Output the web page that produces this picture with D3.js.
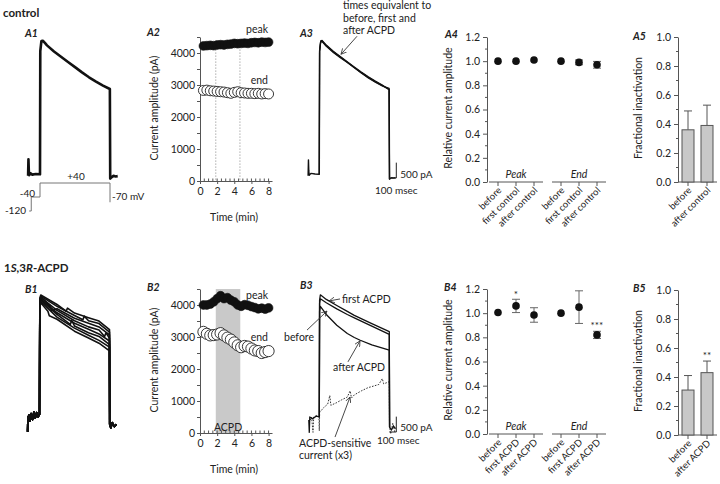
<!DOCTYPE html>
<html><head><meta charset="utf-8">
<script src="https://cdn.jsdelivr.net/npm/d3@7"></script>
<style>
body{margin:0;background:#fff}
svg{display:block}
text{font-family:Lato,"Open Sans","DejaVu Sans",sans-serif;fill:#222}
</style></head>
<body><svg id="c" width="720" height="484"></svg>
<script>
// ---------------- DATA ----------------
const timeMin = [0.4,0.8,1.2,1.6,2.0,2.4,2.8,3.2,3.6,4.0,4.4,4.8,5.2,5.6,6.0,6.4,6.8,7.2,7.6,8.0];
const a2Peak = [4220,4230,4240,4230,4250,4260,4250,4270,4280,4300,4290,4300,4310,4300,4320,4330,4320,4340,4330,4340];
const a2End  = [2830,2840,2820,2810,2800,2790,2780,2760,2740,2770,2790,2760,2750,2740,2740,2730,2740,2720,2730,2720];
const b2Peak = [4000,4000,4030,4100,4200,4290,4200,4230,4150,4100,4000,3960,4010,3990,3950,3920,3880,3900,3870,3910];
const b2End  = [3160,3100,3050,3060,3080,3120,3050,2980,2920,2830,2740,2680,2720,2700,2640,2580,2560,2500,2530,2560];
const a2Marks = [1.84, 4.66];
const b2Shade = [1.84, 4.7];
const ampTicks = [0,1000,2000,3000,4000];
const timeTicks = [0,2,4,6,8];

const groups = ["Peak","End"];
const a4Cats = ["before","first control","after control"];
const a4Peak = [1.0, 1.0, 1.01],  a4PeakErr = [0.005, 0.008, 0.01];
const a4End  = [1.0, 0.99, 0.97], a4EndErr  = [0.008, 0.02, 0.028];
const b4Cats = ["before","first ACPD","after ACPD"];
const b4Peak = [1.005, 1.06, 0.985], b4PeakErr = [0.01, 0.055, 0.06];
const b4End  = [1.0, 1.05, 0.82],    b4EndErr  = [0.01, 0.135, 0.03];
const b4Stars = [{group:0, cat:1, value:1.16, label:"*"}, {group:1, cat:2, value:0.9, label:"***"}];
const relTicks = [0,0.2,0.4,0.6,0.8,1.0,1.2];

const a5Cats = ["before","after control"], a5Vals = [0.36, 0.39], a5Err = [0.13, 0.14];
const b5Cats = ["before","after ACPD"],    b5Vals = [0.31, 0.43], b5Err = [0.10, 0.08];
const b5Stars = [{cat:1, value:0.55, label:"**"}];
const fracTicks = [0,0.2,0.4,0.6,0.8,1.0];

// current traces: [time (ms from step onset), current (pA)]
const a1Trace = [[-170,-60],[-165,480],[-160,120],[-154,-40],[-140,30],[-110,-20],[-60,0],[0,-10],[4,4000],[20,4330],[40,4340],[70,4270],[100,4190],[200,3990],[300,3820],[400,3650],[500,3480],[600,3310],[700,3150],[800,3010],[900,2880],[998,2770],[1003,-150],[1020,-110],[1050,-60],[1080,-80],[1110,-70]];
const a3Before = [[-160,-60],[-155,460],[-150,100],[-144,-40],[-120,20],[-60,0],[0,-10],[4,4000],[20,4320],[40,4330],[100,4180],[200,3980],[300,3810],[400,3640],[500,3470],[600,3300],[700,3150],[800,3010],[900,2880],[998,2760],[1003,-170],[1030,-120],[1060,-130],[1090,-120]];
const a3First  = [[0,-10],[4,4000],[20,4300],[40,4310],[100,4160],[200,3960],[300,3790],[400,3630],[500,3460],[600,3290],[700,3130],[800,2990],[900,2870],[998,2790],[1003,-160]];
const a3After  = [[0,-10],[4,4000],[20,4340],[40,4350],[100,4200],[200,4000],[300,3830],[400,3660],[500,3490],[600,3320],[700,3170],[800,3030],[900,2900],[998,2740],[1003,-160]];
const b1Pre  = [[-170,-550],[-166,-100],[-150,0],[-135,-200],[-120,50],[-100,-150],[-80,100],[-60,-100],[-40,80],[-20,-60],[0,20]];
const b1Post = [[1003,-300],[1020,-420],[1040,-250],[1070,-380],[1100,-300]];
const b1Sweeps = [
 [[5,3800],[18,3910],[250,3600],[380,3380],[400,3480],[500,3320],[700,3170],[850,3060],[1000,2780]],
 [[5,3760],[18,3870],[250,3540],[500,3240],[620,3100],[640,3220],[700,3070],[850,2980],[1000,2700]],
 [[5,3720],[18,3850],[150,3560],[170,3400],[250,3460],[500,3150],[700,2990],[850,2870],[1000,2610]],
 [[5,3690],[18,3830],[250,3410],[500,3070],[700,2870],[850,2770],[930,2560],[950,2680],[1000,2500]],
 [[5,3640],[18,3780],[250,3330],[500,2990],[700,2790],[850,2640],[1000,2410]],
 [[5,3610],[18,3750],[250,3280],[440,2950],[460,3080],[500,2900],[700,2680],[850,2560],[1000,2290]],
 [[5,3560],[18,3700],[250,3190],[500,2830],[700,2600],[850,2430],[1000,2210]],
 [[5,3500],[18,3660],[120,3380],[140,3230],[250,3120],[500,2730],[700,2510],[850,2340],[1000,2090]]
];
const b3Before = [[-150,-100],[-143,-500],[-136,0],[-100,-60],[-40,30],[0,0],[4,3700],[15,3850],[100,3720],[250,3520],[400,3340],[500,3230],[750,2960],[1000,2690],[1004,-330],[1030,-420],[1060,-300],[1090,-380]];
const b3First  = [[0,0],[4,3800],[15,3980],[100,3830],[250,3630],[400,3440],[500,3310],[750,3040],[1000,2780],[1004,-330]];
const b3After  = [[0,0],[4,3450],[15,3600],[100,3340],[250,2990],[400,2720],[500,2590],[585,2500],[750,2350],[1000,2180],[1004,-330]];
const b3Sens   = [[-130,-100],[-110,0],[-90,-500],[-80,0],[-40,50],[-5,0],[0,-450],[5,150],[60,300],[120,420],[150,700],[165,380],[250,470],[320,560],[400,650],[440,850],[460,620],[500,720],[600,850],[700,960],[750,990],[850,1060],[900,1250],[920,1080],[1000,1150],[1003,-300],[1020,-550],[1050,-200],[1080,-500]];
// voltage protocol [ms, mV]
const protocol = [[-155,-120],[-125,-120],[-125,-40],[0,-40],[0,40],[1000,40],[1000,-70]];

// ---------------- DRAW ----------------
const svg = d3.select("#c");
const axisCol = "#555";
function text(x, y, s, o = {}) {
  const t = svg.append("text").attr("x", x).attr("y", y).text(s)
    .attr("font-size", o.size || 10.5).attr("text-anchor", o.anchor || "start");
  if (o.weight) t.attr("font-weight", o.weight);
  if (o.italic) t.attr("font-style", "italic");
  if (o.transform) t.attr("transform", o.transform);
  return t;
}
function vtitle(x, y, s) {
  text(0, 0, s, {anchor: "middle", size: 10.5, transform: `translate(${x},${y}) rotate(-90)`});
}
function line(x1, y1, x2, y2, col = axisCol, w = 1) {
  svg.append("line").attr("x1", x1).attr("y1", y1).attr("x2", x2).attr("y2", y2)
    .attr("stroke", col).attr("stroke-width", w);
}
function styleAxis(g) {
  g.selectAll("path,line").attr("stroke", axisCol);
  g.selectAll("text").attr("font-size", 10.5).attr("fill", "#222")
    .attr("font-family", "Lato, 'Open Sans', sans-serif");
}

// headings & panel labels
text(3, 17, "control", {weight: "bold", size: 11.5});
const h = text(4, 272, "", {weight: "bold", size: 11.5});
h.append("tspan").text("1");
h.append("tspan").text("S").attr("font-style", "italic");
h.append("tspan").text(",3");
h.append("tspan").text("R").attr("font-style", "italic");
h.append("tspan").text("-ACPD");
[["A1",25,37],["A2",147,36],["A3",300,37],["A4",445,38],["A5",633,40],
 ["B1",25,293],["B2",147,291],["B3",300,289],["B4",444,291],["B5",633,292]]
 .forEach(([s,x,y]) => text(x, y, s, {weight: "bold", italic: true, size: 10.5}));

// ----- trace panels -----
function traceScales(x0, base) {
  return {x: d3.scaleLinear().domain([0,1000]).range([x0, x0+70]),
          y: d3.scaleLinear().domain([0,4000]).range([base, base-122.8])};
}
function drawTrace(data, s, o = {}) {
  const p = svg.append("path").datum(data)
    .attr("d", d3.line().x(d => s.x(d[0])).y(d => s.y(d[1])))
    .attr("fill", "none").attr("stroke", o.col || "#111")
    .attr("stroke-width", o.w || 1).attr("stroke-linejoin", "round");
  if (o.dash) p.attr("stroke-dasharray", o.dash);
  return p;
}
svg.append("defs").append("marker").attr("id", "ah")
  .attr("viewBox", "0 0 8 8").attr("refX", 7).attr("refY", 4)
  .attr("markerWidth", 7).attr("markerHeight", 7).attr("orient", "auto")
  .append("path").attr("d", "M0,0.5L7,4L0,7.5").attr("fill", "none").attr("stroke", "#333").attr("stroke-width", 1);
function arrow(s, tip, dx, dy) {
  const x = s.x(tip[0]), y = s.y(tip[1]);
  svg.append("line").attr("x1", x+dx).attr("y1", y+dy).attr("x2", x).attr("y2", y)
    .attr("stroke", "#333").attr("stroke-width", 0.9).attr("marker-end", "url(#ah)");
}
function scaleBar(s, bottomOff, tOff) {
  const x1 = s.x(1000 + tOff), x2 = s.x(1100 + tOff);
  const yb = s.y(0) + bottomOff;
  svg.append("path").attr("d", `M${x1},${yb}H${x2}V${yb - (s.y(0)-s.y(500))}`)
    .attr("fill", "none").attr("stroke", "#222").attr("stroke-width", 1);
  return {x: x2, y: yb};
}

// A1
const sA1 = traceScales(40, 174);
drawTrace(a1Trace, sA1, {w: 2.6});
const vx = d3.scaleLinear().domain([0,1000]).range([40,110]);
const vy = d3.scaleLinear().domain([-120,40]).range([211,183]);
svg.append("path").datum(protocol)
  .attr("d", d3.line().x(d => vx(d[0])).y(d => vy(d[1])))
  .attr("fill", "none").attr("stroke", "#777").attr("stroke-width", 1);
text(76, 180, "+40", {anchor: "middle", size: 10});
text(35, 197, "-40", {anchor: "end", size: 10});
text(26, 214, "-120", {anchor: "end", size: 10});
text(112, 200, "-70 mV", {size: 10});

// A3
const sA3 = traceScales(319.3, 174);
drawTrace(a3After, sA3, {w: 1.2});
drawTrace(a3First, sA3, {w: 1.2});
drawTrace(a3Before, sA3, {w: 1.4});
let sb = scaleBar(sA3, 4, 0);
text(sb.x + 4, sb.y, "500 pA", {size: 10});
text(375, 194, "100 msec", {size: 10});
["times equivalent to", "before, first and", "after ACPD"].forEach((s, i) => text(343, 9 + i*12.5, s, {size: 10.5}));
arrow(sA3, [310, 3900], 16, -18);

// B1
const sB1 = traceScales(39.5, 415);
b1Sweeps.forEach(sw => drawTrace(b1Pre.concat(sw, b1Post), sB1, {w: 1.6}));

// B3
const sB3 = traceScales(319.3, 417);
drawTrace(b3Sens, sB3, {w: 1, dash: "1.6,1.4", col: "#333"});
drawTrace(b3After, sB3, {w: 1.3});
drawTrace(b3Before, sB3, {w: 1.3});
drawTrace(b3First, sB3, {w: 1.3});
sb = scaleBar(sB3, 15, 0);
text(sb.x + 4, sb.y - 1, "500 pA", {size: 10});
text(377, 444, "100 msec", {size: 10});
text(342, 303, "first ACPD", {size: 10.5});
text(284, 341, "before", {size: 10.5});
text(333, 371, "after ACPD", {size: 10.5});
text(299, 447, "ACPD-sensitive", {size: 10.5});
text(299, 459, "current (x3)", {size: 10.5});
arrow(sB3, [139, 3780], 11, -2);
arrow(sB3, [110, 3450], -20, 19);
arrow(sB3, [581, 2480], -12, 21);
arrow(sB3, [439, 650], -15, 40);

// ----- time-course panels A2, B2 -----
function timePanel(yBottom, peak, end, opts) {
  const x = d3.scaleLinear().domain([0, 8.4]).range([200, 272]);
  const y = d3.scaleLinear().domain([0, 4500]).range([yBottom, yBottom - 144]);
  if (opts.shade) {
    svg.append("rect").attr("x", x(opts.shade[0])).attr("width", x(opts.shade[1]) - x(opts.shade[0]))
      .attr("y", y(4500)).attr("height", y(0) - y(4500)).attr("fill", "#c9c9c9");
    text((x(opts.shade[0]) + x(opts.shade[1]))/2, y(0) - 2, "ACPD", {anchor: "middle", size: 10.5});
  }
  if (opts.marks) opts.marks.forEach(m =>
    svg.append("line").attr("x1", x(m)).attr("x2", x(m)).attr("y1", y(4200)).attr("y2", y(0))
      .attr("stroke", "#666").attr("stroke-width", 0.8).attr("stroke-dasharray", "1,2"));
  const gy = svg.append("g").attr("transform", `translate(200,0)`)
    .call(d3.axisLeft(y).tickValues(d3.range(0, 4501, 500)).tickSize(3).tickSizeOuter(0).tickPadding(2)
      .tickFormat(d => ampTicks.includes(d) ? d : ""));
  styleAxis(gy);
  const gx = svg.append("g").attr("transform", `translate(0,${yBottom})`)
    .call(d3.axisBottom(x).tickValues(timeTicks).tickSize(3).tickSizeOuter(0).tickPadding(4));
  styleAxis(gx);
  d3.range(0.5, 8.01, 0.5).forEach(t => line(x(t), yBottom, x(t), yBottom - 2.5));
  vtitle(158, yBottom - 73, "Current amplitude (pA)");
  text(234, yBottom + 40, "Time (min)", {anchor: "middle", size: 10.5});
  svg.append("g").selectAll("circle").data(timeMin).join("circle")
    .attr("cx", d => x(d)).attr("cy", (d, i) => y(peak[i])).attr("r", 4.4)
    .attr("fill", "#111").attr("stroke", "#111").attr("stroke-width", 0.6);
  svg.append("g").selectAll("circle").data(timeMin).join("circle")
    .attr("cx", d => x(d)).attr("cy", (d, i) => y(end[i])).attr("r", opts.rEnd)
    .attr("fill", "#fff").attr("stroke", "#222").attr("stroke-width", 0.9);
  text(268, y(peak[peak.length-1]) - 9, "peak", {anchor: "end", size: 10.5});
  text(268, y(end[end.length-1]) - 10, "end", {anchor: "end", size: 10.5});
}
timePanel(181, a2Peak, a2End, {marks: a2Marks, rEnd: 5});
timePanel(433, b2Peak, b2End, {shade: b2Shade, rEnd: 5.6});

// ----- relative amplitude panels A4, B4 -----
function relPanel(yBottom, cats, peak, peakErr, end, endErr, stars) {
  const x = d3.scaleLinear().domain([0, 5.5]).range([498, 597]);
  const pos = (g, i) => x(g*3.5 + i);
  const y = d3.scaleLinear().domain([0, 1.2]).range([yBottom, yBottom - 145]);
  const gy = svg.append("g").attr("transform", "translate(487,0)")
    .call(d3.axisLeft(y).tickValues(relTicks).tickSize(4).tickSizeOuter(0).tickPadding(3).tickFormat(d3.format(".1f")));
  styleAxis(gy);
  d3.range(0.1, 1.2, 0.2).forEach(v => line(487, y(v), 485, y(v)));
  vtitle(452, yBottom - 74, "Relative current amplitude");
  groups.forEach((gname, g) => {
    line(pos(g, -0.5), yBottom, pos(g, 2.5), yBottom);
    text(pos(g, 1), yBottom - 4, gname, {anchor: "middle", italic: true, size: 10.5});
    cats.forEach((c, i) => {
      line(pos(g, i), yBottom, pos(g, i), yBottom + 4);
      text(0, 0, c, {anchor: "end", size: 9.5, transform: `translate(${pos(g, i) + 4},${yBottom + 9}) rotate(-45)`});
    });
    const vals = g === 0 ? peak : end, errs = g === 0 ? peakErr : endErr;
    vals.forEach((v, i) => {
      const cx = pos(g, i);
      if (errs[i] > 0.012) {
        line(cx, y(v - errs[i]), cx, y(v + errs[i]), "#666", 1);
        line(cx - 4, y(v + errs[i]), cx + 4, y(v + errs[i]), "#666", 1);
        line(cx - 4, y(v - errs[i]), cx + 4, y(v - errs[i]), "#666", 1);
      }
      svg.append("circle").attr("cx", cx).attr("cy", y(v)).attr("r", 3.8).attr("fill", "#111");
    });
  });
  stars.forEach(s => text(pos(s.group, s.cat), y(s.value) + 4, s.label, {anchor: "middle", size: 10}));
}
relPanel(182, a4Cats, a4Peak, a4PeakErr, a4End, a4EndErr, []);
relPanel(434, b4Cats, b4Peak, b4PeakErr, b4End, b4EndErr, b4Stars);

// ----- fractional inactivation panels A5, B5 -----
function fracPanel(yBottom, cats, vals, errs, stars) {
  const x = d3.scalePoint().domain(cats).range([688, 707]);
  const y = d3.scaleLinear().domain([0, 1]).range([yBottom, yBottom - 145]);
  const gy = svg.append("g").attr("transform", "translate(678,0)")
    .call(d3.axisLeft(y).tickValues(fracTicks).tickSize(4).tickSizeOuter(0).tickPadding(3).tickFormat(d3.format(".1f")));
  styleAxis(gy);
  d3.range(0.1, 1.0, 0.2).forEach(v => line(678, y(v), 676, y(v)));
  vtitle(642, yBottom - 74, "Fractional inactivation");
  line(678, yBottom, 717, yBottom);
  cats.forEach((c, i) => {
    const cx = x(c);
    line(cx, y(vals[i]), cx, y(vals[i] + errs[i]), "#555", 1);
    line(cx - 4, y(vals[i] + errs[i]), cx + 4, y(vals[i] + errs[i]), "#555", 1);
    svg.append("rect").attr("x", cx - 6).attr("width", 12).attr("y", y(vals[i])).attr("height", y(0) - y(vals[i]))
      .attr("fill", "#c8c8c8").attr("stroke", "#555").attr("stroke-width", 1);
    line(cx, yBottom, cx, yBottom + 4);
    text(0, 0, c, {anchor: "end", size: 9.5, transform: `translate(${cx + 4},${yBottom + 9}) rotate(-45)`});
  });
  stars.forEach(s => text(x(cats[s.cat]), y(s.value) + 4, s.label, {anchor: "middle", size: 10}));
}
fracPanel(182, a5Cats, a5Vals, a5Err, []);
fracPanel(435, b5Cats, b5Vals, b5Err, b5Stars);
</script></body></html>
